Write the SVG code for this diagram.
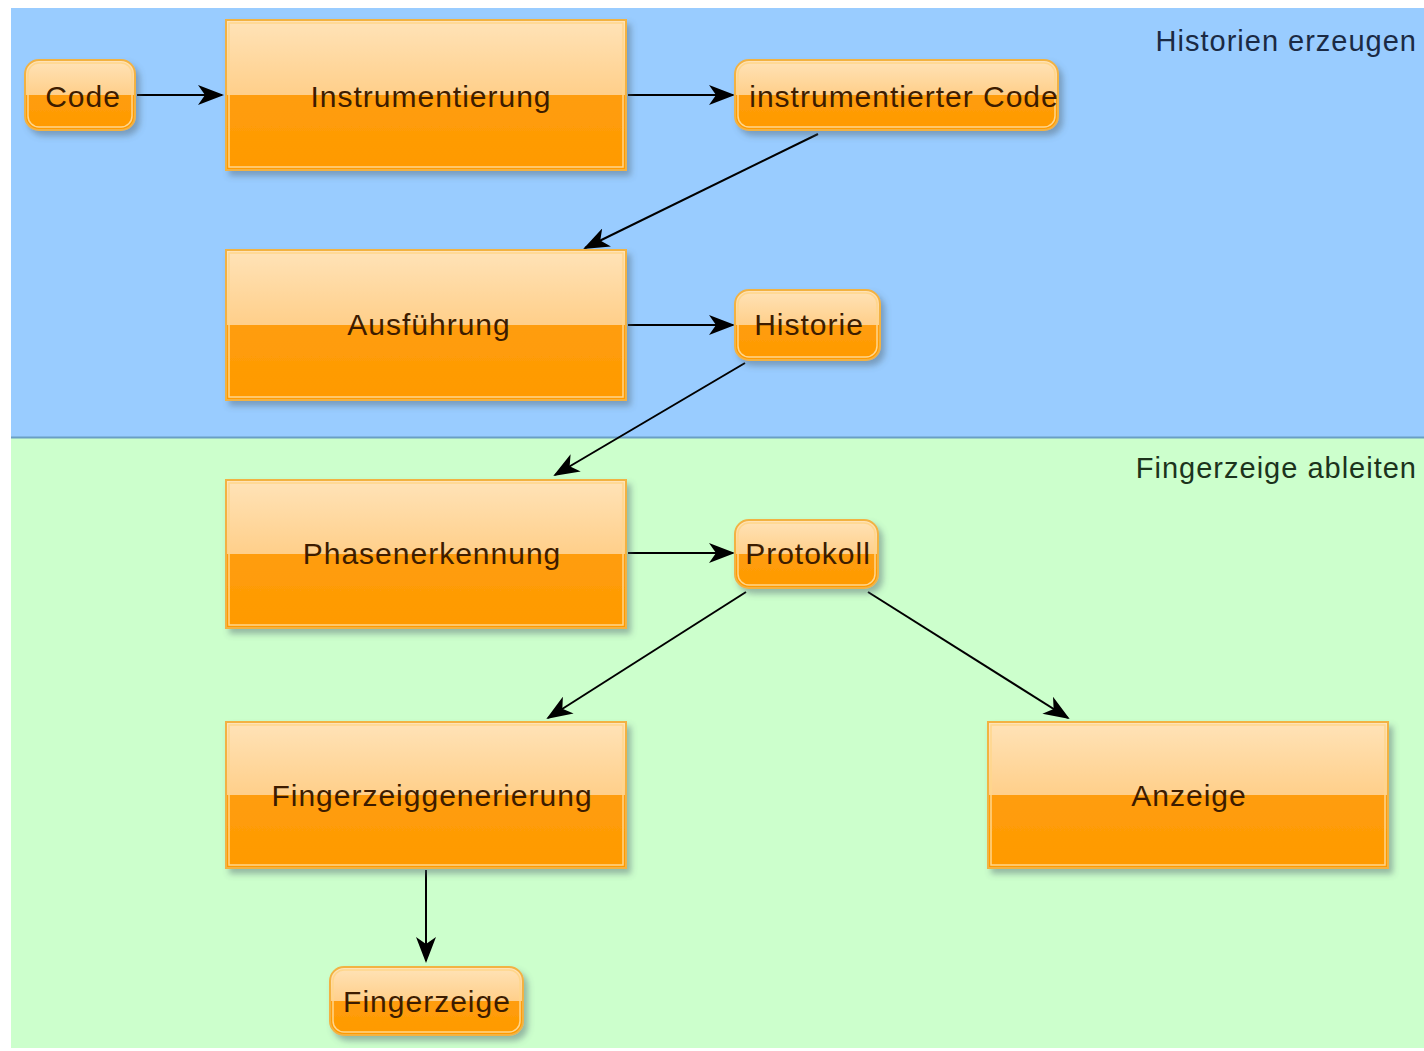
<svg xmlns="http://www.w3.org/2000/svg" width="1424" height="1051" viewBox="0 0 1424 1051">
  <defs>
    <linearGradient id="boxFill" x1="0" y1="0" x2="0" y2="1">
      <stop offset="0" stop-color="#ffe3b8"/>
      <stop offset="0.5" stop-color="#ffcf8a"/>
      <stop offset="0.5" stop-color="#ff9d0c"/>
      <stop offset="1" stop-color="#ff9a00"/>
    </linearGradient>
    <filter id="shadow" x="-10%" y="-20%" width="125%" height="150%">
      <feDropShadow dx="4" dy="5" stdDeviation="3" flood-color="#506070" flood-opacity="0.45"/>
    </filter>
    <marker id="arrow" viewBox="0 0 26 20" refX="24" refY="10" markerWidth="26" markerHeight="20" markerUnits="userSpaceOnUse" orient="auto">
      <path d="M0,0 L26,10 L0,20 L7,10 Z" fill="#000"/>
    </marker>
  </defs>
  <style>
    .box { fill: url(#boxFill); stroke: #f2b243; stroke-width: 2; filter: url(#shadow); }
    .inner { fill: none; stroke: #ffd68c; stroke-width: 1.5; }
    .label { font-family: "Liberation Sans", Arial, sans-serif; font-size: 30px; letter-spacing: 1px; fill: #3d1c00; text-anchor: middle; }
    .lane { font-family: "Liberation Sans", Arial, sans-serif; font-size: 29px; letter-spacing: 1px; text-anchor: end; }
    .edge { stroke: #000; stroke-width: 2; fill: none; marker-end: url(#arrow); }
  </style>

  <rect width="1424" height="1051" fill="#ffffff"/>

  <!-- swimlanes -->
  <g id="lane-historien">
    <rect x="11" y="8" width="1413" height="430" fill="#99ccff"/>
    <text class="lane" x="1417" y="51" fill="#1b2a44">Historien erzeugen</text>
  </g>
  <g id="lane-fingerzeige">
    <rect x="11" y="438" width="1413" height="610" fill="#ccffcc"/>
    <line x1="11" y1="437.5" x2="1424" y2="437.5" stroke="#6a9fc4" stroke-width="2"/>
    <text class="lane" x="1417" y="478" fill="#1c331c">Fingerzeige ableiten</text>
  </g>

  <!-- connectors -->
  <g id="connectors">
    <line class="edge" x1="137" y1="95" x2="222" y2="95"/>
    <line class="edge" x1="628" y1="95" x2="733" y2="95"/>
    <line class="edge" x1="818" y1="134" x2="585" y2="248"/>
    <line class="edge" x1="628" y1="325" x2="733" y2="325"/>
    <line class="edge" x1="745" y1="363" x2="555" y2="475"/>
    <line class="edge" x1="628" y1="553" x2="733" y2="553"/>
    <line class="edge" x1="746" y1="592" x2="548" y2="718"/>
    <line class="edge" x1="868" y1="592" x2="1068" y2="718"/>
    <line class="edge" x1="426" y1="870" x2="426" y2="961"/>
  </g>

  <!-- nodes -->
  <g id="node-code">
    <rect class="box" x="25" y="60" width="110" height="70" rx="14"/>
    <rect class="inner" x="28" y="63" width="104" height="64" rx="11"/>
    <text class="label" x="83" y="107">Code</text>
  </g>
  <g id="node-instrumentierung">
    <rect class="box" x="226" y="20" width="400" height="150"/>
    <rect class="inner" x="229" y="23" width="394" height="144"/>
    <text class="label" x="431" y="107">Instrumentierung</text>
  </g>
  <g id="node-instrumentierter-code">
    <rect class="box" x="735" y="60" width="323" height="70" rx="14"/>
    <rect class="inner" x="738" y="63" width="317" height="64" rx="11"/>
    <text class="label" x="904" y="107">instrumentierter Code</text>
  </g>
  <g id="node-ausfuehrung">
    <rect class="box" x="226" y="250" width="400" height="150"/>
    <rect class="inner" x="229" y="253" width="394" height="144"/>
    <text class="label" x="429" y="335">Ausführung</text>
  </g>
  <g id="node-historie">
    <rect class="box" x="735" y="290" width="145" height="70" rx="14"/>
    <rect class="inner" x="738" y="293" width="139" height="64" rx="11"/>
    <text class="label" x="809" y="335">Historie</text>
  </g>
  <g id="node-phasenerkennung">
    <rect class="box" x="226" y="480" width="400" height="148"/>
    <rect class="inner" x="229" y="483" width="394" height="142"/>
    <text class="label" x="432" y="564">Phasenerkennung</text>
  </g>
  <g id="node-protokoll">
    <rect class="box" x="735" y="520" width="143" height="68" rx="14"/>
    <rect class="inner" x="738" y="523" width="137" height="62" rx="11"/>
    <text class="label" x="808" y="564">Protokoll</text>
  </g>
  <g id="node-fingerzeiggenerierung">
    <rect class="box" x="226" y="722" width="400" height="146"/>
    <rect class="inner" x="229" y="725" width="394" height="140"/>
    <text class="label" x="432" y="806">Fingerzeiggenerierung</text>
  </g>
  <g id="node-anzeige">
    <rect class="box" x="988" y="722" width="400" height="146"/>
    <rect class="inner" x="991" y="725" width="394" height="140"/>
    <text class="label" x="1189" y="806">Anzeige</text>
  </g>
  <g id="node-fingerzeige">
    <rect class="box" x="330" y="967" width="193" height="68" rx="14"/>
    <rect class="inner" x="333" y="970" width="187" height="62" rx="11"/>
    <text class="label" x="427" y="1012">Fingerzeige</text>
  </g>
</svg>
